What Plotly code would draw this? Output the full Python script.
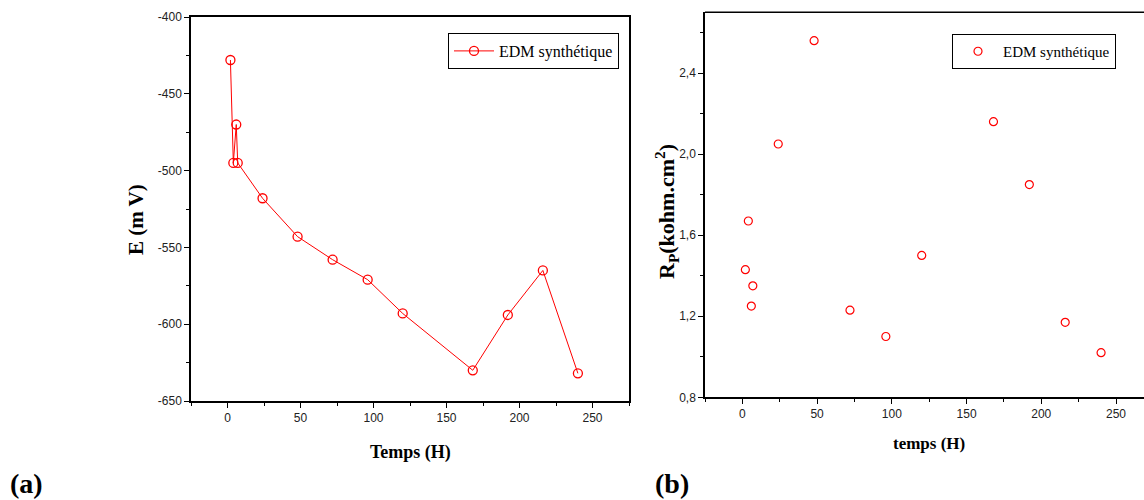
import plotly.graph_objects as go

# ---- data ----
temps_h = [2, 4, 6, 7, 24, 48, 72, 96, 120, 168, 192, 216, 240]
e_mv = [-428, -495, -470, -495, -518, -543, -558, -571, -593, -630, -594, -565, -632]
rp_kohm_cm2 = [1.43, 1.67, 1.25, 1.35, 2.05, 2.56, 1.23, 1.10, 1.50, 2.16, 1.85, 1.17, 1.02]

x_tick_vals = [0, 50, 100, 150, 200, 250]
x_tick_text = ["0", "50", "100", "150", "200", "250"]
e_tick_vals = [-400, -450, -500, -550, -600, -650]
e_tick_text = ["-400", "-450", "-500", "-550", "-600", "-650"]
rp_tick_vals = [0.8, 1.2, 1.6, 2.0, 2.4]
rp_tick_text = ["0,8", "1,2", "1,6", "2,0", "2,4"]

series_name = "EDM synthétique"

W, H = 1144, 500
RED = "#ff0000"
SANS = "Liberation Sans"
SERIF = "Liberation Serif"

fig = go.Figure()

fig.add_trace(go.Scatter(
    x=temps_h, y=e_mv, mode="lines+markers", name=series_name,
    line=dict(color=RED, width=1),
    marker=dict(symbol="circle-open", size=9, color=RED, line=dict(width=1.3, color=RED)),
    xaxis="x", yaxis="y", legend="legend",
))
fig.add_trace(go.Scatter(
    x=temps_h, y=rp_kohm_cm2, mode="markers", name=series_name,
    marker=dict(symbol="circle-open", size=8, color=RED, line=dict(width=1.2, color=RED)),
    xaxis="x2", yaxis="y2", legend="legend2",
))

axis_common = dict(
    showline=True, linecolor="black", linewidth=1.5,
    ticks="outside", ticklen=5, tickwidth=1.3, tickcolor="black",
    showgrid=False, zeroline=False, automargin=False,
    tickfont=dict(family=SANS, size=12, color="#222"),
)

def px_x(p):
    return p / W

def px_y(p):
    return 1 - p / H

fig.update_layout(
    width=W, height=H,
    margin=dict(l=0, r=0, t=0, b=0, pad=0, autoexpand=False),
    paper_bgcolor="white", plot_bgcolor="white",
    xaxis=dict(domain=[px_x(191), px_x(629)], range=[-25, 275], anchor="y",
               mirror=True, tickmode="array", tickvals=x_tick_vals, ticktext=x_tick_text,
               minor=dict(dtick=25, tick0=0, ticks="outside", ticklen=3, tickcolor="black"),
               **axis_common),
    yaxis=dict(domain=[px_y(401), px_y(17)], range=[-650, -400], anchor="x",
               mirror=True, tickmode="array", tickvals=e_tick_vals, ticktext=e_tick_text,
               minor=dict(dtick=25, tick0=0, ticks="outside", ticklen=3, tickcolor="black"),
               **axis_common),
    xaxis2=dict(domain=[px_x(705), 1], range=[-25, (1144 - 742) / 1.496], anchor="y2",
                tickmode="array", tickvals=x_tick_vals, ticktext=x_tick_text,
                minor=dict(dtick=25, tick0=0, ticks="outside", ticklen=3, tickcolor="black"),
                **axis_common),
    yaxis2=dict(domain=[px_y(397.3), px_y(12.3)], range=[0.8, 2.7], anchor="x2",
                tickmode="array", tickvals=rp_tick_vals, ticktext=rp_tick_text,
                minor=dict(dtick=0.2, tick0=0, ticks="outside", ticklen=3, tickcolor="black"),
                **axis_common),
    legend=dict(x=px_x(619), y=px_y(33), xanchor="right", yanchor="top",
                bgcolor="white", bordercolor="black", borderwidth=1,
                font=dict(family=SERIF, size=16, color="black"),
                itemwidth=40),
    legend2=dict(x=px_x(1116), y=px_y(34), xanchor="right", yanchor="top",
                 bgcolor="white", bordercolor="black", borderwidth=1,
                 font=dict(family=SERIF, size=15, color="black"),
                 itemwidth=40),
    showlegend=True,
)

# top frame line for right plot (its right edge lies outside the picture)
fig.add_shape(type="line", xref="paper", yref="paper",
              x0=px_x(705), x1=1, y0=px_y(12.3), y1=px_y(12.3),
              line=dict(color="black", width=1.5))

annos = [
    dict(text="<b>Temps (H)</b>", x=px_x(410), y=px_y(452), font=dict(family=SERIF, size=18)),
    dict(text="<b>temps (H)</b>", x=px_x(929), y=px_y(443), font=dict(family=SERIF, size=17)),
    dict(text="<b>E (m V)</b>", x=px_x(136), y=px_y(220), textangle=-90, font=dict(family=SERIF, size=21)),
    dict(text="<b>R<sub>P</sub>(kohm.cm<sup>2</sup>)</b>", x=px_x(667), y=px_y(212), textangle=-90,
         font=dict(family=SERIF, size=22)),
    dict(text="<b>(a)</b>", x=px_x(26), y=px_y(483), font=dict(family=SERIF, size=28)),
    dict(text="<b>(b)</b>", x=px_x(672), y=px_y(483), font=dict(family=SERIF, size=28)),
]
for a in annos:
    fig.add_annotation(xref="paper", yref="paper", showarrow=False,
                       xanchor="center", yanchor="middle",
                       font_color="black", **a)

fig.write_html("out.html")
